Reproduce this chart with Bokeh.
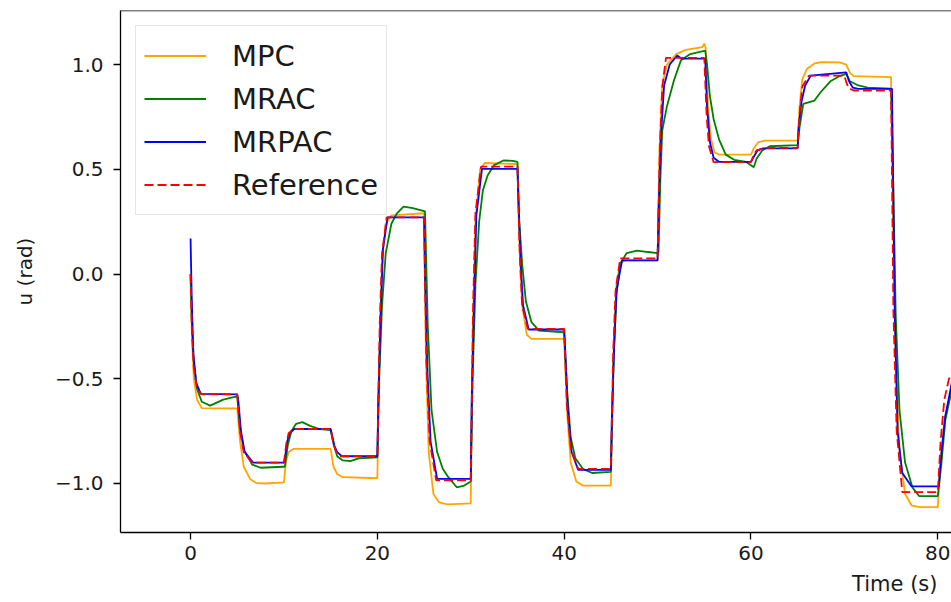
from bokeh.plotting import figure
from bokeh.models import (Range1d, FixedTicker, Legend, LegendItem, Span, Title,
                          CustomJSTickFormatter)
from bokeh.embed import file_html
from bokeh.resources import INLINE

# ---------------- data ----------------
X_TICKS = [0, 20, 40, 60, 80]
Y_TICKS = [-1.0, -0.5, 0.0, 0.5, 1.0]

T_MPC = [0, 0.15, 0.35, 0.7, 1.2, 5.0,
         5.3, 5.7, 6.4, 7.0, 8.0, 10.0,
         10.2, 10.5, 11.0, 15.0,
         15.3, 15.7, 16.3, 20.0,
         20.2, 20.5, 20.9, 21.5, 25.0,
         25.2, 25.5, 26.0, 26.6, 27.5, 30.0,
         30.2, 30.5, 31.0, 31.5, 35.0,
         35.2, 35.5, 36.0, 36.5, 40.0,
         40.3, 40.7, 41.3, 42.0, 45.0,
         45.3, 45.6, 46.0, 46.5, 50.0,
         50.2, 50.5, 51.0, 52.0, 53.0, 54.8, 55.0, 55.15,
         55.4, 55.7, 56.1, 56.6, 60.0,
         60.3, 60.8, 61.5, 65.0,
         65.2, 65.5, 66.0, 66.8, 67.5, 69.5, 70.2,
         70.6, 71.0, 75.0,
         75.2, 75.5, 75.9, 76.5, 77.2, 78.0, 80.0,
         80.3, 80.7, 81.5]
U_MPC = [0.0, -0.3, -0.5, -0.6, -0.64, -0.642,
         -0.8, -0.92, -0.98, -0.997, -1.0, -0.995,
         -0.9, -0.85, -0.835, -0.835,
         -0.92, -0.955, -0.97, -0.975,
         -0.4, 0.05, 0.24, 0.28, 0.29,
         -0.4, -0.85, -1.05, -1.09, -1.10, -1.095,
         -0.3, 0.25, 0.5, 0.53, 0.525,
         0.15, -0.15, -0.29, -0.31, -0.31,
         -0.65, -0.9, -0.99, -1.01, -1.01,
         -0.35, -0.05, 0.05, 0.065, 0.065,
         0.6, 0.9, 1.0, 1.05, 1.07, 1.083, 1.1, 1.08,
         0.8, 0.65, 0.58, 0.57, 0.57,
         0.60, 0.63, 0.637, 0.637,
         0.8, 0.93, 0.98, 1.005, 1.011, 1.01, 1.0,
         0.96, 0.945, 0.94,
         0.3, -0.4, -0.85, -1.05, -1.105, -1.113, -1.113,
         -0.9, -0.7, -0.55]

T_MRAC = [0, 0.15, 0.35, 0.7, 1.2, 2.1, 3.5, 4.6, 5.0,
          5.3, 5.7, 6.6, 7.5, 9.9,
          10.1, 10.4, 10.8, 11.3, 11.96, 12.8, 13.8, 15.0,
          15.3, 15.7, 16.3, 17.1, 18.0, 20.0,
          20.2, 20.5, 20.9, 21.5, 22.1, 22.8, 23.8, 25.0,
          25.1, 25.4, 25.8, 26.4, 27.0, 27.6, 28.5, 29.3, 30.0,
          30.2, 30.5, 30.9, 31.3, 31.8, 32.5, 33.5, 34.5, 35.0,
          35.2, 35.5, 35.9, 36.5, 37.3, 40.0,
          40.3, 40.7, 41.2, 42.0, 43.0, 45.0,
          45.3, 45.6, 46.0, 46.7, 47.8, 49.0, 50.0,
          50.1, 50.3, 50.5, 51.0, 51.75, 52.5, 53.5, 55.1,
          55.3, 55.6, 56.0, 56.6, 57.3, 58.2, 59.5, 60.3,
          60.6, 61.2, 62.0, 65.0,
          65.2, 65.6, 66.8, 67.5, 68.5, 69.5, 70.2,
          70.6, 71.5, 72.5, 75.0,
          75.2, 75.5, 75.9, 76.5, 77.3, 78.0, 80.0,
          80.4, 80.8, 81.5]
U_MRAC = [0.0, -0.25, -0.42, -0.55, -0.61, -0.628, -0.60, -0.588, -0.585,
          -0.74, -0.84, -0.91, -0.925, -0.92,
          -0.92, -0.82, -0.75, -0.715, -0.707, -0.725, -0.74, -0.745,
          -0.81, -0.87, -0.89, -0.893, -0.88, -0.875,
          -0.5, -0.15, 0.10, 0.24, 0.29, 0.322, 0.315, 0.30,
          0.30, -0.25, -0.65, -0.85, -0.93, -0.97, -1.018, -1.01, -0.99,
          -0.5, -0.05, 0.25, 0.40, 0.47, 0.52, 0.542, 0.54, 0.535,
          0.25, 0.05, -0.13, -0.23, -0.27, -0.278,
          -0.55, -0.78, -0.88, -0.93, -0.95, -0.945,
          -0.4, -0.1, 0.05, 0.10, 0.112, 0.105, 0.10,
          0.10, 0.45, 0.685, 0.80, 0.924, 1.02, 1.05, 1.067,
          1.0, 0.85, 0.74, 0.64, 0.57, 0.545, 0.535, 0.51,
          0.55, 0.59, 0.61, 0.615,
          0.70, 0.812, 0.828, 0.87, 0.92, 0.945, 0.955,
          0.92, 0.90, 0.89, 0.885,
          0.5, -0.2, -0.65, -0.9, -1.02, -1.06, -1.06,
          -0.9, -0.7, -0.55]

T_MRPAC = [0, 0.12, 0.3, 0.6, 1.1, 5,
           5.1, 5.4, 5.8, 6.7, 10,
           10.1, 10.35, 10.6, 11.1, 15,
           15.1, 15.4, 15.7, 16.2, 20,
           20.1, 20.35, 20.6, 21.1, 25,
           25.1, 25.35, 25.7, 26.4, 30,
           30.1, 30.35, 30.6, 31.2, 35,
           35.1, 35.35, 35.6, 36.2, 40,
           40.1, 40.4, 40.8, 41.5, 45,
           45.1, 45.35, 45.6, 46.2, 50,
           50.1, 50.35, 50.7, 51.3, 52.1, 52.6, 55.1,
           55.3, 55.6, 56.0, 56.6, 60,
           60.3, 60.7, 61.3, 65,
           65.1, 65.4, 65.8, 66.4, 70.2,
           70.5, 70.9, 71.5, 75.1,
           75.4, 75.7, 76.2, 77.2, 80.1,
           80.4, 80.8, 81.5]
U_MRPAC = [0.17, -0.1, -0.38, -0.52, -0.572, -0.575,
           -0.6, -0.75, -0.85, -0.9, -0.9,
           -0.88, -0.8, -0.76, -0.74, -0.74,
           -0.76, -0.82, -0.85, -0.87, -0.87,
           -0.6, -0.2, 0.12, 0.27, 0.27,
           0.0, -0.45, -0.8, -0.978, -0.978,
           -0.6, -0.15, 0.28, 0.502, 0.502,
           0.35, 0.05, -0.15, -0.265, -0.265,
           -0.35, -0.65, -0.85, -0.935, -0.935,
           -0.7, -0.35, -0.08, 0.065, 0.065,
           0.3, 0.65, 0.9, 1.0, 1.043, 1.028, 1.028,
           0.8, 0.63, 0.555, 0.535, 0.535,
           0.56, 0.59, 0.60, 0.60,
           0.7, 0.82, 0.9, 0.947, 0.963,
           0.92, 0.89, 0.884, 0.884,
           -0.2, -0.75, -0.95, -1.014, -1.014,
           -0.85, -0.68, -0.52]

T_REF = [0, 0.15, 0.35, 0.7, 1.2,
         5, 5.3, 5.7, 6.6,
         10, 10.25, 10.5, 11,
         15, 15.3, 15.6, 16.1,
         20, 20.25, 20.5, 21,
         25, 25.25, 25.6, 26.3,
         30, 30.25, 30.5, 31.1,
         35, 35.25, 35.5, 36.1,
         40, 40.3, 40.7, 41.5,
         45, 45.25, 45.5, 46,
         50, 50.25, 50.5, 50.9,
         55, 55.25, 55.5, 56,
         60, 60.3, 60.6, 61.5,
         65, 65.25, 65.5, 66.2,
         70, 70.25, 70.5, 71,
         75, 75.25, 75.6, 76.2,
         80, 80.3, 80.7, 81.2, 81.6]
U_REF = [0, -0.28, -0.45, -0.55, -0.575,
         -0.575, -0.754, -0.851, -0.90,
         -0.90, -0.81, -0.76, -0.74,
         -0.74, -0.81, -0.85, -0.87,
         -0.87, -0.24, 0.10, 0.27,
         0.27, -0.42, -0.80, -0.985,
         -0.985, -0.16, 0.29, 0.513,
         0.513, 0.09, -0.15, -0.262,
         -0.262, -0.63, -0.83, -0.93,
         -0.93, -0.38, -0.08, 0.075,
         0.075, 0.60, 0.89, 1.032,
         1.032, 0.76, 0.61, 0.534,
         0.534, 0.57, 0.59, 0.602,
         0.602, 0.79, 0.895, 0.947,
         0.947, 0.91, 0.886, 0.876,
         0.876, -0.18, -0.75, -1.041,
         -1.041, -0.80, -0.60, -0.50, -0.47]

# ---------------- figure ----------------
FONT = "DejaVu Sans"
Y_MIN, Y_MAX = -1.234, 1.258

p = figure(width=951, height=602, output_backend="svg", toolbar_location=None,
           x_range=Range1d(-7.5, 81.47), y_range=Range1d(Y_MIN, Y_MAX),
           min_border_left=120, min_border_right=0, min_border_top=10,
           min_border_bottom=70)
p.outline_line_color = None
p.grid.visible = False
p.background_fill_color = "white"
p.border_fill_color = "white"

LW = 1.8
r_mpc = p.line(T_MPC, U_MPC, line_color="orange", line_width=LW)
r_mrac = p.line(T_MRAC, U_MRAC, line_color="green", line_width=LW)
r_mrpac = p.line(T_MRPAC, U_MRPAC, line_color="blue", line_width=LW)
r_ref = p.line(T_REF, U_REF, line_color="red", line_width=LW, line_dash="9 4")

# top spine
p.add_layout(Span(location=Y_MAX, dimension="width", line_color="black",
                  line_width=1.3))

for ax in (p.xaxis[0], p.yaxis[0]):
    ax.axis_line_color = "black"
    ax.axis_line_width = 1.3
    ax.major_tick_line_color = "black"
    ax.major_tick_line_width = 1.3
    ax.major_tick_out = 7
    ax.major_tick_in = 0
    ax.minor_tick_out = 0
    ax.minor_tick_in = 0
    ax.major_label_text_font = FONT
    ax.major_label_text_font_size = "20px"
    ax.major_label_text_color = "#1a1a1a"

p.xaxis[0].ticker = FixedTicker(ticks=X_TICKS)
p.xaxis[0].major_label_standoff = 6
p.yaxis[0].ticker = FixedTicker(ticks=Y_TICKS)
p.yaxis[0].major_label_standoff = 10
p.yaxis[0].formatter = CustomJSTickFormatter(
    code="return tick.toFixed(1).replace('-', '\u2212');")
p.yaxis[0].axis_label = "u (rad)"
p.yaxis[0].axis_label_text_font = FONT
p.yaxis[0].axis_label_text_font_size = "20px"
p.yaxis[0].axis_label_text_font_style = "normal"
p.yaxis[0].axis_label_text_color = "#1a1a1a"
p.yaxis[0].axis_label_standoff = 15

xlabel = Title(text="Time (s)", align="right", offset=14, standoff=14,
               text_font=FONT, text_font_size="21px", text_font_style="normal",
               text_color="#1a1a1a")
p.add_layout(xlabel, "below")

legend = Legend(items=[LegendItem(label="MPC", renderers=[r_mpc]),
                       LegendItem(label="MRAC", renderers=[r_mrac]),
                       LegendItem(label="MRPAC", renderers=[r_mrpac]),
                       LegendItem(label="Reference", renderers=[r_ref])],
                location="top_left", margin=15, padding=8, spacing=0,
                glyph_width=62, glyph_height=43, label_height=43,
                label_standoff=26, label_text_font=FONT,
                label_text_font_size="29px", label_text_color="#1a1a1a",
                border_line_color="#cccccc", border_line_width=1,
                background_fill_color="white", background_fill_alpha=0.8)
p.add_layout(legend)

open("out.html", "w").write(file_html(p, INLINE))
